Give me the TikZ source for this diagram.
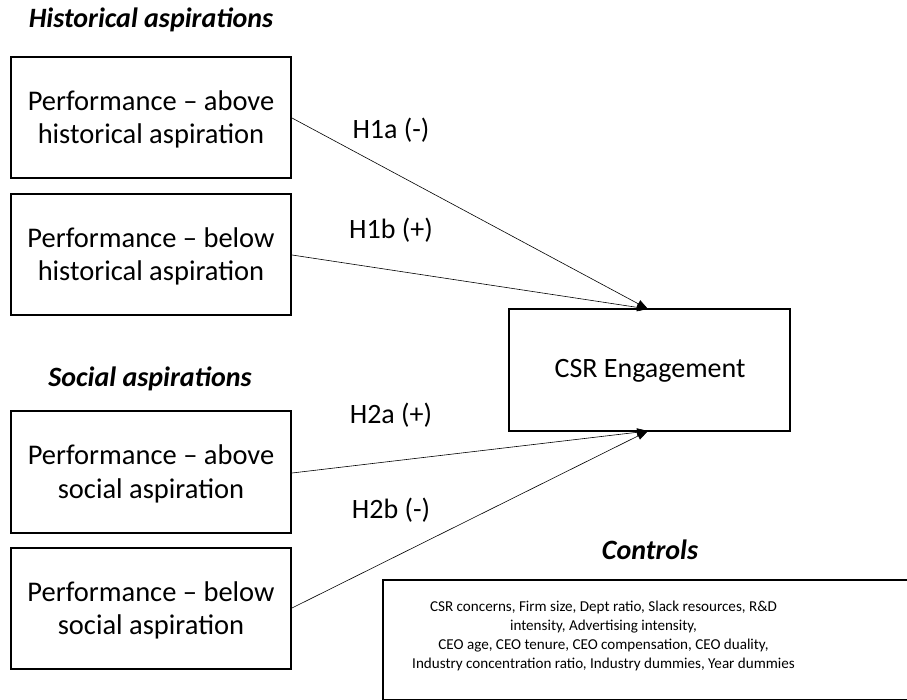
\documentclass[tikz,border=0pt]{standalone}
\usepackage{fontspec}
\setmainfont{Carlito}
\usetikzlibrary{arrows.meta}
\begin{document}
\begin{tikzpicture}[x=1pt,y=-1pt,
  box/.style={draw,line width=1.3pt,inner sep=0pt},
  boxtext/.style={align=center,font=\fontsize{28.5}{33.5}\selectfont},
  head/.style={font=\fontsize{28}{32}\selectfont\bfseries\itshape},
  hyp/.style={font=\fontsize{28}{32}\selectfont},
  conn/.style={draw,line width=0.6pt,-{Triangle[length=11pt,width=8pt]}}]
\useasboundingbox (0,0) rectangle (907,700);
\node[head] (th) at (151,20) {Historical aspirations};
\node[head] (ts) at (150,379) {Social aspirations};
\node[head] (tc) at (650,550) {Controls};
\draw[box] (11,57) rectangle (291,178);
\node[boxtext] (b1) at (151,119.5) {Performance – above\\historical aspiration};
\coordinate (b1e) at (292,118);
\draw[box] (11,194) rectangle (291,315);
\node[boxtext] (b2) at (151,256.5) {Performance – below\\historical aspiration};
\coordinate (b2e) at (292,255);
\draw[box] (11,411) rectangle (291,533);
\node[boxtext] (b3) at (151,474) {Performance – above\\social aspiration};
\coordinate (b3e) at (292,473);
\draw[box] (11,548) rectangle (291,669);
\node[boxtext] (b4) at (151,610.5) {Performance – below\\social aspiration};
\coordinate (b4e) at (292,608);
\draw[box] (509,309) rectangle (790,431);
\node[font=\fontsize{28}{32}\selectfont] (csr) at (650,371) {CSR Engagement};
\coordinate (ct) at (648,309);
\coordinate (cb) at (648,431);
\draw[box] (383,580) rectangle (912,699.5);
\node[align=center,font=\fontsize{15.1}{18.7}\selectfont] (ctl) at (603.5,636) {CSR concerns, Firm size, Dept ratio, Slack resources, R\&D\\intensity, Advertising intensity,\\CEO age, CEO tenure, CEO compensation, CEO duality,\\Industry concentration ratio, Industry dummies, Year dummies};
\draw[conn] (b1e) -- (ct);
\draw[conn] (b2e) -- (ct);
\draw[conn] (b3e) -- (cb);
\draw[conn] (b4e) -- (cb);
\node[hyp] (h1a) at (391,130) {H1a (-)};
\node[hyp] (h1b) at (391,230) {H1b (+)};
\node[hyp] (h2a) at (391,415) {H2a (+)};
\node[hyp] (h2b) at (391,510) {H2b (-)};
\end{tikzpicture}
\end{document}
